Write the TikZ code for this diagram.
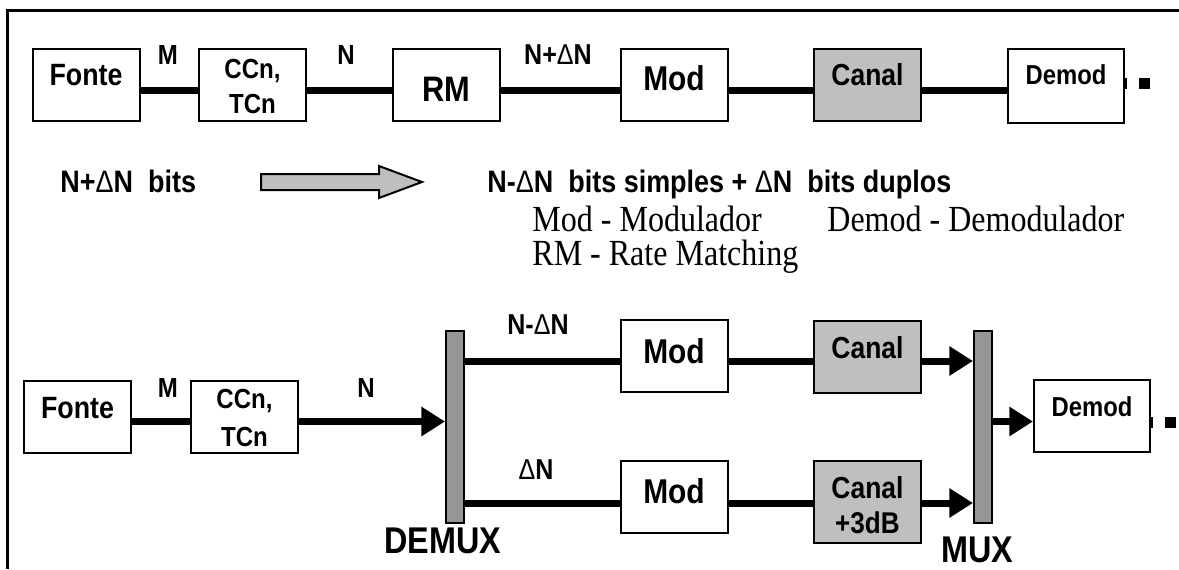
\documentclass[tikz,border=0pt]{standalone}
\usepackage{fontspec}
\setmainfont{Liberation Serif}[FakeStretch=0.87]
\setsansfont{Liberation Sans}[FakeStretch=0.87]
\usetikzlibrary{arrows.meta,calc}
\definecolor{chgray}{gray}{0.75}
\definecolor{bargray}{gray}{0.59}
\newcommand{\dlt}{{\mdseries Δ}}
\begin{document}
\begin{tikzpicture}[x=0.5pt,y=-0.5pt,
  box/.style={draw,line width=1pt,fill=white,inner sep=0pt,minimum width=53.5pt,minimum height=36pt},
  chan/.style={box,fill=chgray},
  bar/.style={draw,line width=1pt,fill=bargray,inner sep=0pt,minimum width=9pt,minimum height=96pt},
  txt/.style={font=\sffamily\bfseries\fontsize{#1}{#1}\selectfont,inner sep=0pt},
  link/.style={line width=3.5pt},
  feed/.style={line width=3.5pt,-{Triangle[length=11.8pt,width=14pt]}},
  note/.style={font=\fontsize{18.4}{18.4}\selectfont,inner sep=0pt,anchor=base west},
]
\useasboundingbox (0,0) rectangle (1179,569);

% outer frame (top and left sides)
\draw[line width=1.5pt] (7,569) -- (7,10) -- (1179,10);

% ---------- upper chain ----------
\coordinate (r1) at (0,90);
\node[box] (fonte1) at (86,84.5) {};
\node[box] (ccn1) at (252.5,84.5) {};
\node[box] (rm1) at (446.5,84.5) {};
\node[box] (mod1) at (674,84.5) {};
\node[chan] (canal1) at (867.5,84.5) {};
\node[box,minimum width=58pt,minimum height=37pt] (demod1) at (1066,85.5) {};

\draw[link] (fonte1.east |- r1) -- (ccn1.west |- r1);
\draw[link] (ccn1.east |- r1) -- (rm1.west |- r1);
\draw[link] (rm1.east |- r1) -- (mod1.west |- r1);
\draw[link] (mod1.east |- r1) -- (canal1.west |- r1);
\draw[link] (canal1.east |- r1) -- (demod1.west |- r1);

\node[txt=15.4] (fonte1t) at (86,75) {Fonte};
\node[txt=13.8] (ccn1a) at (252.5,71) {CCn,};
\node[txt=13.8] (ccn1b) at (252.5,104) {TCn};
\node[txt=17.7] (rm1t) at (446.5,89) {RM};
\node[txt=17.2] (mod1t) at (674,78.5) {Mod};
\node[txt=15.2] (canal1t) at (867.5,74.5) {Canal};
\node[txt=13.7] (demod1t) at (1066,74.5) {Demod};

\node[txt=13.8] (lm1) at (168,55) {M};
\node[txt=13.8] (ln1) at (346,55) {N};
\node[txt=14.4] (lnd1) at (558,55) {N+\dlt N};

% output stub of the upper demodulator
\fill (1124,78) rectangle (1127,89);
\fill (1139,78) rectangle (1150,89);

% ---------- bit mapping ----------
\node[txt=15.5,anchor=base west] (bitsin) at (60,192) {N+\dlt N\ \ bits};
\draw[line width=1pt,fill=chgray] (261,174) -- (379,174) -- (379,166) -- (422,182)
  -- (379,198) -- (379,190) -- (261,190) -- cycle;
\node[txt=15.5,anchor=base west] (bitsout) at (487,192)
  {N-\dlt N\ \ bits simples + \dlt N\ \ bits duplos};

\node[note] (legmod) at (532,231) {Mod - Modulador};
\node[note] (legdemod) at (827,231) {Demod - Demodulador};
\node[note] (legrm) at (532,265) {RM - Rate Matching};

% ---------- lower chain ----------
\coordinate (r2) at (0,421.5);
\coordinate (r3) at (0,361);
\coordinate (r4) at (0,503);

\node[box] (fonte2) at (77.5,416.5) {};
\node[box] (ccn2) at (244.5,416.5) {};
\node[box] (mod2) at (674,356) {};
\node[chan] (canal2) at (867.5,356.5) {};
\node[box] (mod3) at (674,497) {};
\node[chan,minimum height=40.75pt] (canal3) at (867.5,502) {};
\node[box,minimum width=58pt] (demod2) at (1092,416) {};

\draw[link] (fonte2.east |- r2) -- (ccn2.west |- r2);
\node[bar] (demux) at (455,426.5) {};
\node[bar] (mux) at (983,426.5) {};
\draw[feed] (ccn2.east |- r2) -- (demux.west |- r2);
\draw[link] (demux.east |- r3) -- (mod2.west |- r3);
\draw[link] (mod2.east |- r3) -- (canal2.west |- r3);
\draw[feed] (canal2.east |- r3) -- (mux.west |- r3);
\draw[link] (demux.east |- r4) -- (mod3.west |- r4);
\draw[link] (mod3.east |- r4) -- (canal3.west |- r4);
\draw[feed] (canal3.east |- r4) -- (mux.west |- r4);
\draw[feed] (mux.east |- r2) -- (demod2.west |- r2);

\node[txt=15.4] (fonte2t) at (77.5,408) {Fonte};
\node[txt=13.8] (ccn2a) at (244.5,401) {CCn,};
\node[txt=13.8] (ccn2b) at (244.5,437) {TCn};
\node[txt=17.2] (mod2t) at (674,351.5) {Mod};
\node[txt=15.2] (canal2t) at (867.5,347.5) {Canal};
\node[txt=17.2] (mod3t) at (674,491) {Mod};
\node[txt=15.2] (canal3a) at (867.5,487.5) {Canal};
\node[txt=15] (canal3b) at (867.5,523) {+3dB};
\node[txt=13.7] (demod2t) at (1092,407) {Demod};

\node[txt=13.8] (lm2) at (168,388) {M};
\node[txt=13.8] (ln2) at (366,388) {N};
\node[txt=14.4] (lnd2) at (538,325) {N-\dlt N};
\node[txt=14.4] (ld2) at (536,470) {\dlt N};
\node[txt=18.6] (demuxt) at (443,541) {DEMUX};
\node[txt=18.6] (muxt) at (977,550) {MUX};

% output stub of the lower demodulator
\fill (1150,417) rectangle (1153,428);
\fill (1165,417) rectangle (1176,428);
\end{tikzpicture}
\end{document}
